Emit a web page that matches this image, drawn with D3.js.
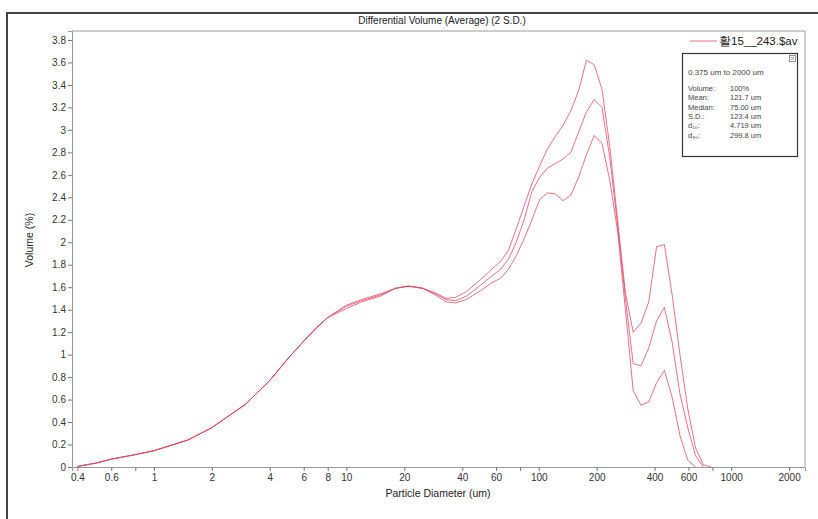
<!DOCTYPE html>
<html>
<head>
<meta charset="utf-8">
<script src="https://cdn.jsdelivr.net/npm/d3@7"></script>
<style>
  html, body { margin: 0; padding: 0; background: #fff; }
  svg { display: block; font-family: "Liberation Sans", Arial, sans-serif; }
</style>
</head>
<body>
<svg id="chart" width="818" height="519"></svg>
<script>
// Particle size classes (um)
const sizes = [0.4, 0.5, 0.6, 0.8, 1.0, 1.5, 2, 3, 4, 5, 6, 7, 8, 10, 12, 15, 18, 21, 25, 29, 33, 37, 42, 50, 57,
  63.4, 69.6, 76.4, 83.9, 92.1, 101.1, 111.0, 121.8, 133.7, 146.8, 161.2, 176.9, 194.2, 213.2, 234.1, 256.9,
  282.1, 309.6, 339.9, 373.1, 409.6, 449.7, 493.6, 541.9, 594.9, 653.0, 716.9, 786.9];

// Differential volume (%): average, +2 S.D., -2 S.D.
const meanVol = [0.005, 0.035, 0.07, 0.11, 0.145, 0.24, 0.35, 0.56, 0.77, 0.97, 1.12, 1.24, 1.33, 1.43, 1.48, 1.53, 1.59, 1.61, 1.59, 1.54, 1.49, 1.48, 1.52, 1.62, 1.70,
  1.76, 1.85, 2.00, 2.20, 2.45, 2.58, 2.66, 2.70, 2.74, 2.80, 2.98, 3.16, 3.27, 3.20, 2.75, 2.15,
  1.50, 0.92, 0.90, 1.06, 1.30, 1.42, 1.11, 0.65, 0.35, 0.10, 0.0, 0.0];
const upperVol = [0.005, 0.035, 0.07, 0.11, 0.145, 0.24, 0.35, 0.56, 0.77, 0.97, 1.12, 1.24, 1.33, 1.44, 1.49, 1.54, 1.59, 1.61, 1.59, 1.55, 1.50, 1.51, 1.56, 1.67, 1.76,
  1.83, 1.93, 2.12, 2.32, 2.52, 2.68, 2.83, 2.94, 3.04, 3.17, 3.35, 3.62, 3.58, 3.36, 2.85, 2.20,
  1.55, 1.20, 1.28, 1.47, 1.96, 1.98, 1.53, 1.00, 0.52, 0.17, 0.02, 0.0];
const lowerVol = [0.005, 0.035, 0.07, 0.11, 0.145, 0.24, 0.35, 0.56, 0.77, 0.97, 1.12, 1.24, 1.33, 1.41, 1.47, 1.52, 1.59, 1.61, 1.59, 1.53, 1.47, 1.46, 1.49, 1.57, 1.64,
  1.68, 1.76, 1.88, 2.03, 2.20, 2.38, 2.44, 2.43, 2.37, 2.42, 2.58, 2.78, 2.95, 2.88, 2.55, 2.10,
  1.40, 0.68, 0.55, 0.58, 0.75, 0.86, 0.62, 0.28, 0.06, 0.0, 0.0, 0.0];

const xTicks = [0.4, 0.6, 0.8, 1, 2, 4, 6, 8, 10, 20, 40, 60, 80, 100, 200, 400, 600, 800, 1000, 2000];
const xUnlabeled = [0.8, 80, 800];
const yTicks = [0, 0.2, 0.4, 0.6, 0.8, 1, 1.2, 1.4, 1.6, 1.8, 2, 2.2, 2.4, 2.6, 2.8, 3, 3.2, 3.4, 3.6, 3.8];

const statsLines = [
  ["Volume:", "100%"],
  ["Mean:", "121.7 um"],
  ["Median:", "75.00 um"],
  ["S.D.:", "123.4 um"],
  ["d\u2081\u2080:", "4.719 um"],
  ["d\u2089\u2080:", "299.8 um"]
];

const svg = d3.select("#chart");
const plot = { left: 72, right: 805, top: 31, bottom: 467 };

const x = d3.scaleLog().domain([0.375, 2420]).range([plot.left, plot.right]);
const y = d3.scaleLinear().domain([0, 3.88]).range([plot.bottom, plot.top]);

// outer frame
svg.append("path")
  .attr("d", `M7,519 V13 H818`)
  .attr("fill", "none").attr("stroke", "#444").attr("stroke-width", 2);

// plot box
svg.append("path")
  .attr("d", `M${plot.left},${plot.top} H${plot.right} V${plot.bottom}`)
  .attr("fill", "none").attr("stroke", "#9a9a9a").attr("stroke-width", 1);

// title
svg.append("text")
  .attr("x", 442).attr("y", 24)
  .attr("text-anchor", "middle").attr("font-size", 10).attr("fill", "#222")
  .text("Differential Volume (Average) (2 S.D.)");

// y axis
const yAxis = svg.append("g")
  .attr("transform", `translate(${plot.left},0)`)
  .call(d3.axisLeft(y).tickValues(yTicks).tickSize(4).tickPadding(2)
    .tickFormat(d => String(+d.toFixed(1))));
yAxis.select(".domain").attr("stroke", "#9a9a9a");
yAxis.selectAll(".tick line").attr("stroke", "#777");
yAxis.selectAll(".tick text").attr("font-size", 10).attr("fill", "#333")
  .attr("font-family", "Liberation Sans, Arial, sans-serif");

// x axis
const xAxis = svg.append("g")
  .attr("transform", `translate(0,${plot.bottom})`)
  .call(d3.axisBottom(x).tickValues(xTicks).tickSize(4).tickPadding(3)
    .tickFormat(d => xUnlabeled.includes(d) ? "" : String(d)));
xAxis.select(".domain").attr("stroke", "#9a9a9a");
xAxis.selectAll(".tick line").attr("stroke", "#777");
xAxis.selectAll(".tick text").attr("font-size", 10).attr("fill", "#333")
  .attr("font-family", "Liberation Sans, Arial, sans-serif");

// axis titles
svg.append("text")
  .attr("transform", `translate(33,240) rotate(-90)`)
  .attr("text-anchor", "middle").attr("font-size", 10.5).attr("fill", "#222")
  .text("Volume (%)");
svg.append("text")
  .attr("x", 438).attr("y", 497)
  .attr("text-anchor", "middle").attr("font-size", 10.5).attr("fill", "#222")
  .text("Particle Diameter (um)");

// curves: trim trailing zeros after the series reaches the axis
function seriesPoints(vals) {
  const pts = [];
  for (let i = 0; i < sizes.length; i++) {
    pts.push([sizes[i], vals[i]]);
    if (i > 10 && vals[i] === 0) break;
  }
  return pts;
}
const line = d3.line().x(d => x(d[0])).y(d => y(d[1])).curve(d3.curveLinear);
const curves = svg.append("g").attr("fill", "none");
[upperVol, meanVol, lowerVol].forEach(vals => {
  curves.append("path")
    .attr("d", line(seriesPoints(vals)))
    .attr("stroke", "#e8405c")
    .attr("stroke-opacity", 0.75)
    .attr("stroke-width", 1);
});

// legend
svg.append("line")
  .attr("x1", 690).attr("x2", 717).attr("y1", 41).attr("y2", 41)
  .attr("stroke", "#e8405c").attr("stroke-opacity", 0.75);
svg.append("text")
  .attr("x", 719).attr("y", 45).attr("font-size", 11.5).attr("fill", "#222")
  .text("활15__243.$av");

// statistics box
const box = svg.append("g");
box.append("rect")
  .attr("x", 682.5).attr("y", 53.5).attr("width", 115).attr("height", 103)
  .attr("fill", "#fff").attr("stroke", "#333").attr("stroke-width", 1.2);
box.append("rect")
  .attr("x", 789.5).attr("y", 55.5).attr("width", 6).attr("height", 6)
  .attr("fill", "#fff").attr("stroke", "#777").attr("stroke-width", 0.8);
box.append("path")
  .attr("d", "M791,57 L794,60 M794,57 L791,60")
  .attr("stroke", "#777").attr("stroke-width", 0.7);
box.append("text")
  .attr("x", 688).attr("y", 75).attr("font-size", 8).attr("fill", "#444")
  .text("0.375 um to 2000 um");
statsLines.forEach((r, i) => {
  const yy = 91 + i * 9.3;
  box.append("text").attr("x", 688).attr("y", yy).attr("font-size", 7.5).attr("fill", "#444").text(r[0]);
  box.append("text").attr("x", 730).attr("y", yy).attr("font-size", 7.5).attr("fill", "#444").text(r[1]);
});
</script>
</body>
</html>
